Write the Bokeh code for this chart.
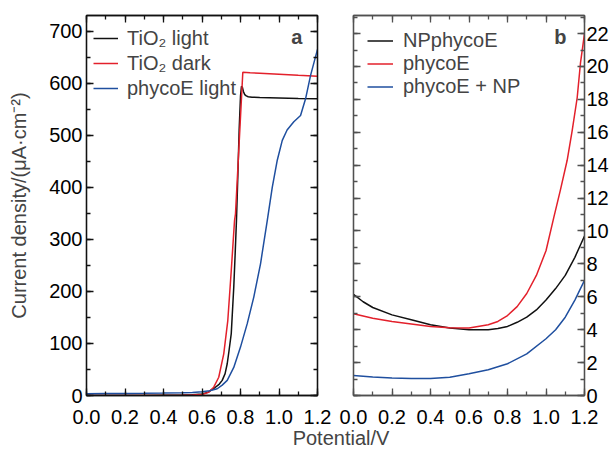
from bokeh.plotting import figure
from bokeh.models import (LinearAxis, SingleIntervalTicker, FixedTicker, Range1d, Label,
                          PrintfTickFormatter)
from bokeh.layouts import row, column
from bokeh.embed import file_html
from bokeh.resources import INLINE

FONT = "Liberation Sans"
FS = "20px"
TFS = "20px"

# ---------------- tick values ----------------
x_major_ticks = [0.0, 0.2, 0.4, 0.6, 0.8, 1.0, 1.2]
x_minor_ticks = [0.0, 0.1, 0.2, 0.3, 0.4, 0.5, 0.6, 0.7, 0.8, 0.9, 1.0, 1.1, 1.2]

# ---------------- Panel a data ----------------
a_tio2_light_x = [0.0, 0.1, 0.2, 0.3, 0.4, 0.5, 0.55, 0.6, 0.63, 0.66, 0.69, 0.705, 0.72,
                  0.731, 0.74, 0.752, 0.765, 0.772, 0.779, 0.786, 0.793, 0.800, 0.805,
                  0.81, 0.815, 0.822, 0.83, 0.84, 0.86, 0.9, 1.0, 1.1, 1.2]
a_tio2_light_y = [0, 0, 0, 0, 0.5, 1, 1.5, 3, 6, 13, 22, 29, 42,
                  61, 85, 119, 208, 270, 336, 420, 510, 575, 594,
                  592, 584, 578, 575.5, 574, 573, 572.5, 571.5, 570.5, 570]

a_tio2_dark_x = [0.0, 0.1, 0.2, 0.3, 0.4, 0.5, 0.55, 0.6, 0.634, 0.661, 0.687, 0.713,
                 0.734, 0.752, 0.769, 0.774, 0.79, 0.80, 0.812, 0.85, 0.9, 1.0, 1.1, 1.2]
a_tio2_dark_y = [0, 0, 0, 0, 0, 0.5, 1, 2, 6, 16, 35, 80,
                 144, 240, 336, 349, 463, 535, 621, 620, 619, 617, 615, 613.5]

a_phyco_light_x = [0.0, 0.1, 0.2, 0.3, 0.4, 0.5, 0.55, 0.6, 0.64, 0.679, 0.705, 0.731,
                   0.765, 0.8, 0.835, 0.869, 0.904, 0.939, 0.965, 0.991, 1.017, 1.042,
                   1.077, 1.112, 1.138, 1.164, 1.2]
a_phyco_light_y = [3.5, 3.8, 4, 4.3, 4.7, 5.3, 6, 7, 9, 13, 20, 29,
                   54, 93, 138, 189, 253, 336, 400, 452, 490, 510,
                   526, 538, 570, 615, 665]

# ---------------- Panel b data ----------------
b_x = [0.0, 0.05, 0.1, 0.2, 0.3, 0.4, 0.5, 0.6, 0.7, 0.75, 0.8, 0.85, 0.9, 0.95,
       1.0, 1.05, 1.1, 1.15, 1.2]
b_npphyco_y = [6.15, 5.7, 5.35, 4.9, 4.6, 4.3, 4.1, 4.0, 4.0, 4.07, 4.2, 4.45, 4.76, 5.2,
               5.8, 6.5, 7.3, 8.4, 9.7]
b_phyco_x = [0.0, 0.1, 0.2, 0.3, 0.4, 0.5, 0.6, 0.7, 0.75, 0.8, 0.85, 0.9, 0.95, 1.0,
             1.04, 1.075, 1.11, 1.136, 1.162, 1.179, 1.2]
b_phyco_y = [4.97, 4.7, 4.5, 4.35, 4.2, 4.12, 4.1, 4.3, 4.5, 4.86, 5.4, 6.2, 7.3, 8.8,
             10.8, 12.5, 14.3, 16.1, 18.1, 20.2, 22.0]
b_phyco_np_x = [0.0, 0.1, 0.2, 0.3, 0.4, 0.5, 0.6, 0.7, 0.8, 0.9, 1.0, 1.05, 1.1, 1.15, 1.2]
b_phyco_np_y = [1.22, 1.13, 1.07, 1.04, 1.03, 1.11, 1.32, 1.56, 1.93, 2.53, 3.45, 4.0,
                4.76, 5.8, 7.0]

a_labels = ["TiO\u2082 light", "TiO\u2082 dark", "phycoE light"]
b_labels = ["NPphycoE", "phycoE", "phycoE + NP"]
y_title = "Current density/(\u03bcA\u00b7cm\u207b\u00b2)"
x_title = "Potential/V"

BLACK = "#111111"
RED = "#e3202b"
BLUE = "#1f4f9f"
GREY = "#505050"


def style_axis(ax, color, show_labels):
    ax.major_tick_in = 7
    ax.major_tick_out = 0
    ax.minor_tick_in = 4
    ax.minor_tick_out = 0
    ax.axis_line_color = color
    ax.major_tick_line_color = color
    ax.minor_tick_line_color = color
    ax.axis_line_width = 1.3
    ax.major_tick_line_width = 1.3
    ax.minor_tick_line_width = 1.3
    ax.major_label_text_font = FONT
    ax.major_label_text_line_height = 1.0
    if show_labels:
        ax.major_label_text_font_size = TFS
        ax.major_label_text_color = "#000000"
    else:
        ax.major_label_text_font_size = "1px"
        ax.major_label_text_color = None
        ax.major_label_text_alpha = 0
        ax.major_label_standoff = 0


def xt():
    return FixedTicker(ticks=x_major_ticks, minor_ticks=x_minor_ticks)


# ---------------- Figure a ----------------
pa = figure(frame_width=231, frame_height=380, x_range=Range1d(0, 1.2),
            y_range=Range1d(0, 730), output_backend="svg", toolbar_location=None,
            min_border_left=86, min_border_right=18, min_border_top=15,
            min_border_bottom=20)
pa.grid.visible = False
pa.outline_line_color = BLACK
pa.outline_line_width = 1.3
pa.background_fill_color = None
pa.border_fill_color = None

pa.line(a_tio2_light_x, a_tio2_light_y, color=BLACK, line_width=1.5, legend_label=a_labels[0])
pa.line(a_tio2_dark_x, a_tio2_dark_y, color=RED, line_width=1.5, legend_label=a_labels[1])
pa.line(a_phyco_light_x, a_phyco_light_y, color=BLUE, line_width=1.5, legend_label=a_labels[2])

pa.xaxis.ticker = xt()
pa.xaxis.formatter = PrintfTickFormatter(format="%.1f")
pa.yaxis.ticker = SingleIntervalTicker(interval=100, num_minor_ticks=2)
style_axis(pa.xaxis[0], BLACK, True)
style_axis(pa.yaxis[0], BLACK, True)
pa.xaxis.major_label_standoff = 14
pa.yaxis.major_label_standoff = 4
pa.yaxis.axis_label = y_title
pa.yaxis.axis_label_text_font = FONT
pa.yaxis.axis_label_text_font_size = FS
pa.yaxis.axis_label_text_font_style = "normal"
pa.yaxis.axis_label_standoff = 16

ax_top = LinearAxis(ticker=xt())
style_axis(ax_top, BLACK, False)
pa.add_layout(ax_top, "above")
ax_right = LinearAxis(ticker=SingleIntervalTicker(interval=100, num_minor_ticks=2))
style_axis(ax_right, BLACK, False)
pa.add_layout(ax_right, "right")

pa.legend.location = (0, 288)
pa.legend.margin = 0
pa.legend.padding = 7
pa.legend.spacing = 1
pa.legend.label_height = 24
pa.legend.glyph_height = 24
pa.legend.glyph_width = 25
pa.legend.label_standoff = 9
pa.legend.label_text_font = FONT
pa.legend.label_text_font_size = FS
pa.legend.background_fill_alpha = 0
pa.legend.border_line_alpha = 0

pa.add_layout(Label(x=1.122, y=689, text="a", text_align="right", text_baseline="middle",
                    text_font=FONT, text_font_size=FS, text_font_style="bold"))

# ---------------- Figure b ----------------
pb = figure(frame_width=231, frame_height=380, x_range=Range1d(0, 1.2),
            y_range=Range1d(0, 23.1), output_backend="svg", toolbar_location=None,
            y_axis_location="right",
            min_border_left=18, min_border_right=30, min_border_top=15,
            min_border_bottom=20)
pb.grid.visible = False
pb.outline_line_color = GREY
pb.outline_line_width = 1.3
pb.background_fill_color = None
pb.border_fill_color = None

pb.line(b_x, b_npphyco_y, color=BLACK, line_width=1.5, legend_label=b_labels[0])
pb.line(b_phyco_x, b_phyco_y, color=RED, line_width=1.5, legend_label=b_labels[1])
pb.line(b_phyco_np_x, b_phyco_np_y, color=BLUE, line_width=1.5, legend_label=b_labels[2])

pb.xaxis.ticker = xt()
pb.xaxis.formatter = PrintfTickFormatter(format="%.1f")
pb.yaxis.ticker = SingleIntervalTicker(interval=2, num_minor_ticks=2)
style_axis(pb.xaxis[0], GREY, True)
style_axis(pb.yaxis[0], GREY, True)
pb.xaxis.major_label_standoff = 14
pb.yaxis.major_label_standoff = 2

bx_top = LinearAxis(ticker=xt())
style_axis(bx_top, GREY, False)
pb.add_layout(bx_top, "above")
by_left = LinearAxis(ticker=SingleIntervalTicker(interval=2, num_minor_ticks=2))
style_axis(by_left, GREY, False)
pb.add_layout(by_left, "left")

pb.legend.location = "top_left"
pb.legend.margin = 0
pb.legend.padding = 14
pb.legend.spacing = 0
pb.legend.label_height = 21
pb.legend.glyph_height = 21
pb.legend.glyph_width = 26
pb.legend.label_standoff = 10
pb.legend.label_text_font = FONT
pb.legend.label_text_font_size = FS
pb.legend.background_fill_alpha = 0
pb.legend.border_line_alpha = 0

pb.add_layout(Label(x=1.106, y=21.8, text="b", text_align="right", text_baseline="middle",
                    text_font=FONT, text_font_size=FS, text_font_style="bold"))

# ---------------- Shared x label ----------------
pl = figure(width=614, height=22, x_range=Range1d(0, 614), y_range=Range1d(0, 22),
            output_backend="svg", toolbar_location=None,
            min_border_left=0, min_border_right=0, min_border_top=0, min_border_bottom=0)
pl.axis.visible = False
pl.grid.visible = False
pl.outline_line_color = None
pl.background_fill_color = None
pl.border_fill_color = None
pl.add_layout(Label(x=340.5, y=10.5, text=x_title,
                    text_align="center", text_baseline="middle",
                    text_font=FONT, text_font_size=FS))

layout = column(row(pa, pb), pl)
open("out.html", "w").write(file_html(layout, INLINE))
